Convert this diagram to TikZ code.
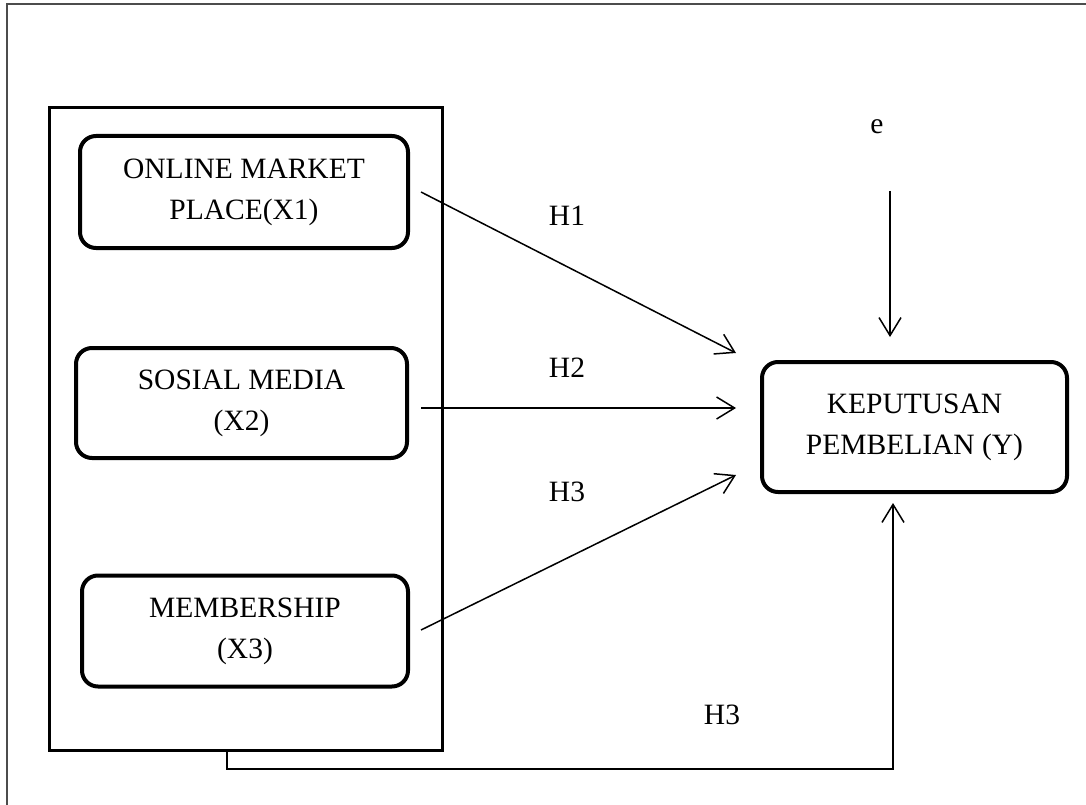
\documentclass[tikz,border=0pt]{standalone}
\usepackage{fontspec}
\setmainfont{Liberation Serif}
\usetikzlibrary{arrows.meta}
\begin{document}
\begin{tikzpicture}[x=1pt,y=-1pt,
  varbox/.style={draw, line width=4pt, rounded corners=16pt, inner sep=0pt, align=center,
    font=\fontsize{29.5}{41}\selectfont},
  grpbox/.style={draw, line width=3pt, inner sep=0pt},
  arr/.style={line width=1.5pt, -{Straight Barb[length=18pt,width=22pt,line width=1.5pt]}},
  lbl/.style={font=\fontsize{29.5}{41}\selectfont, inner sep=0pt},
  frame/.style={draw=black!70, line width=1.2pt}]
\useasboundingbox (0,0) rectangle (1086,805);
\draw[frame] (7,805) -- (7,4) -- (1086,4);
\node[grpbox, minimum width=393pt, minimum height=642pt] (grp) at (245.5,429) {};
\node[varbox, minimum width=328pt, minimum height=112pt] (x1) at (244,192) {ONLINE MARKET\\PLACE(X1)};
\node[varbox, minimum width=331pt, minimum height=110pt] (x2) at (241.5,403) {SOSIAL MEDIA\\(X2)};
\node[varbox, minimum width=326pt, minimum height=111pt] (x3) at (245,631) {MEMBERSHIP\\(X3)};
\node[varbox, minimum width=305pt, minimum height=130pt] (y) at (914.5,427) {KEPUTUSAN\\PEMBELIAN (Y)};
\node[lbl] (e) at (877,127) {e};
\node[lbl] (h1) at (567,216) {H1};
\node[lbl] (h2) at (567,368) {H2};
\node[lbl] (h3) at (567,492) {H3};
\node[lbl] (h4) at (722,715) {H3};
\coordinate (s1) at (421,192);
\coordinate (t1) at (736,353);
\coordinate (s2) at (421,408);
\coordinate (t2) at (736,408);
\coordinate (s3) at (421,630);
\coordinate (t3) at (736,475);
\coordinate (se) at (890,191);
\coordinate (te) at (890,337);
\coordinate (b0) at (227,750);
\coordinate (b1) at (893,769);
\coordinate (tb) at (893,503);
\draw[arr] (s1) -- (t1);
\draw[arr] (s2) -- (t2);
\draw[arr] (s3) -- (t3);
\draw[arr] (se) -- (te);
\draw[arr] (b0) |- (b1) -- (tb);
\end{tikzpicture}
\end{document}
